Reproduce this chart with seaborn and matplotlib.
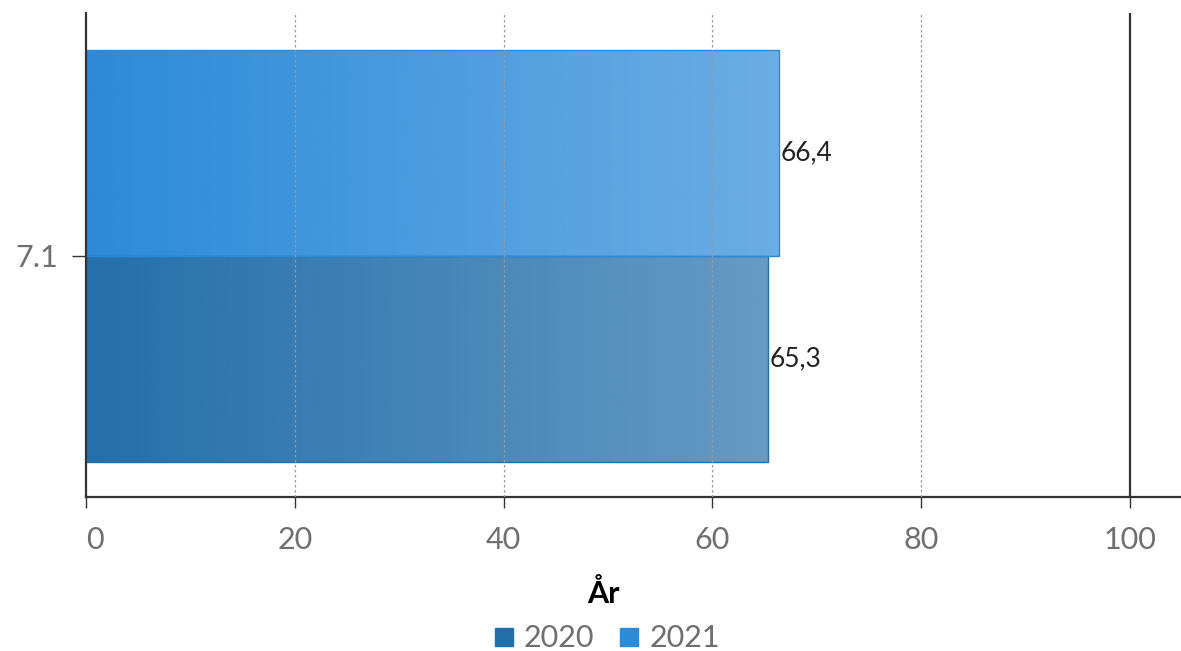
import seaborn as sns
import pandas as pd
import numpy as np
import matplotlib.pyplot as plt
from matplotlib.lines import Line2D
from matplotlib.colors import to_rgb

categories = ['7.1']
years = ['2020', '2021']
values_2020 = [65.3]
values_2021 = [66.4]
colors = {'2020': '#236faa', '2021': '#2b8ad9'}

df = pd.DataFrame({
    'kat': categories * 2,
    'aar': ['2020'] * len(categories) + ['2021'] * len(categories),
    'verdi': values_2020 + values_2021,
})

sns.set_style('white')
plt.rcParams['font.family'] = ['Lato', 'DejaVu Sans']

fig = plt.figure(figsize=(11.81, 6.51), dpi=100)
ax = fig.add_axes([86 / 1181, 1 - 497 / 651, (1180 - 86) / 1181, (497 - 13) / 651])

sns.barplot(data=df, x='verdi', y='kat', hue='aar', hue_order=years,
            palette=colors, orient='h', width=0.85, ax=ax, legend=False,
            linewidth=1)

# gradient fill on every bar
for bar, yr in zip(ax.patches, [y for y in years for _ in categories]):
    base = to_rgb(colors[yr])
    x0, y0 = bar.get_x(), bar.get_y()
    w, h = bar.get_width(), bar.get_height()
    grad = np.ones((2, 256, 4))
    grad[..., :3] = base
    grad[..., 3] = np.linspace(1.0, 0.7, 256)
    im = ax.imshow(grad, extent=[x0, x0 + w, y0, y0 + h], aspect='auto',
                   origin='lower', zorder=1)
    im.set_clip_path(bar)
    bar.set_facecolor('none')
    bar.set_edgecolor(colors[yr])
    bar.set_zorder(2)
    ax.text(x0 + w + 0.15, y0 + h / 2, f'{w:.1f}'.replace('.', ','),
            va='center', ha='left', fontsize=19, color='#222222', zorder=5)

ax.set_ylim(-0.498, 0.502)
ax.set_xlim(0, 104.8)

for gx in [20, 40, 60, 80]:
    ax.axvline(gx, color='#999999', lw=0.9, ls=(0, (2, 2)), zorder=3)
ax.axvline(100, color='#333333', lw=1.6, zorder=3)

ax.set_xticks([0, 20, 40, 60, 80, 100])
ax.set_xlabel('')
ax.set_ylabel('')
sns.despine(ax=ax, top=True, right=True)
for side in ['left', 'bottom']:
    ax.spines[side].set_color('#333333')
    ax.spines[side].set_linewidth(1.6)
ax.tick_params(axis='x', length=8, width=1, color='#333333', pad=13,
               labelsize=22, labelcolor='#6f6f6f', bottom=True)
ax.tick_params(axis='y', length=10, width=1, color='#333333', pad=10,
               labelsize=22, labelcolor='#6f6f6f', left=True)
ax.get_xticklabels()[0].set_horizontalalignment('left')

handles = [Line2D([], [], marker='s', ls='none', markersize=13,
                  markerfacecolor=colors[y], markeredgecolor=colors[y])
           for y in years]
leg = fig.legend(handles, years, title='År', loc='lower center',
                 bbox_to_anchor=(0.511, -0.03), ncol=2, frameon=False,
                 fontsize=22, title_fontsize=22, handletextpad=0.1,
                 handlelength=1.1, columnspacing=0.6, labelspacing=0.2,
                 borderaxespad=0.2)
leg.get_title().set_fontweight('bold')
leg.get_title().set_color('black')
leg._legend_box.sep = 12
for t in leg.get_texts():
    t.set_color('#6f6f6f')

fig.savefig('out.png', dpi=100)
